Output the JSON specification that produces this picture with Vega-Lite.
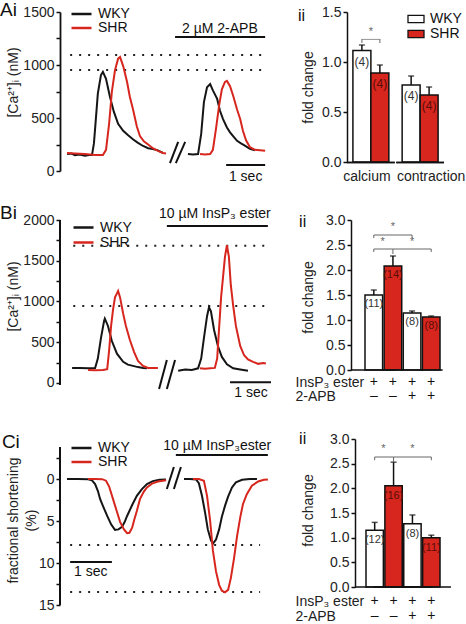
{
"$schema": "https://vega.github.io/schema/vega-lite/v6.json",
"padding": {"left": 0, "top": 0, "right": 0, "bottom": 0},
"background": "white",
"columns": 2,
"spacing": {"row": 49, "column": 76},
"bounds": "flush",
"align": "each",
"resolve": {"scale": {"x": "independent", "y": "independent", "color": "independent", "fill": "independent"}, "legend": {"color": "independent", "fill": "independent"}},
"datasets": {
"caA": [
{"s":"WKY","g":1,"t":0.18,"v":160},{"s":"WKY","g":1,"t":0.30,"v":165},{"s":"WKY","g":1,"t":0.38,"v":150},{"s":"WKY","g":1,"t":0.50,"v":155},{"s":"WKY","g":1,"t":0.64,"v":145},{"s":"WKY","g":1,"t":0.75,"v":150},{"s":"WKY","g":1,"t":0.82,"v":150},{"s":"WKY","g":1,"t":0.87,"v":260},{"s":"WKY","g":1,"t":0.90,"v":400},{"s":"WKY","g":1,"t":0.97,"v":730},{"s":"WKY","g":1,"t":1.05,"v":905},{"s":"WKY","g":1,"t":1.10,"v":935},{"s":"WKY","g":1,"t":1.18,"v":870},{"s":"WKY","g":1,"t":1.28,"v":700},{"s":"WKY","g":1,"t":1.38,"v":560},{"s":"WKY","g":1,"t":1.49,"v":445},{"s":"WKY","g":1,"t":1.62,"v":380},{"s":"WKY","g":1,"t":1.74,"v":340},{"s":"WKY","g":1,"t":1.87,"v":300},{"s":"WKY","g":1,"t":2.00,"v":265},{"s":"WKY","g":1,"t":2.13,"v":236},{"s":"WKY","g":1,"t":2.26,"v":215},{"s":"WKY","g":1,"t":2.38,"v":208},{"s":"WKY","g":1,"t":2.51,"v":195},{"s":"WKY","g":1,"t":2.64,"v":170},
{"s":"SHR","g":1,"t":0.18,"v":170},{"s":"SHR","g":1,"t":0.38,"v":165},{"s":"SHR","g":1,"t":0.64,"v":160},{"s":"SHR","g":1,"t":0.90,"v":150},{"s":"SHR","g":1,"t":1.10,"v":150},{"s":"SHR","g":1,"t":1.18,"v":200},{"s":"SHR","g":1,"t":1.26,"v":450},{"s":"SHR","g":1,"t":1.33,"v":750},{"s":"SHR","g":1,"t":1.41,"v":950},{"s":"SHR","g":1,"t":1.49,"v":1060},{"s":"SHR","g":1,"t":1.54,"v":1075},{"s":"SHR","g":1,"t":1.62,"v":990},{"s":"SHR","g":1,"t":1.72,"v":840},{"s":"SHR","g":1,"t":1.79,"v":700},{"s":"SHR","g":1,"t":1.87,"v":585},{"s":"SHR","g":1,"t":1.97,"v":420},{"s":"SHR","g":1,"t":2.05,"v":330},{"s":"SHR","g":1,"t":2.15,"v":280},{"s":"SHR","g":1,"t":2.26,"v":250},{"s":"SHR","g":1,"t":2.38,"v":215},{"s":"SHR","g":1,"t":2.51,"v":190},{"s":"SHR","g":1,"t":2.64,"v":170},{"s":"SHR","g":1,"t":2.72,"v":165},
{"s":"WKY","g":2,"t":3.28,"v":160},{"s":"WKY","g":2,"t":3.41,"v":155},{"s":"WKY","g":2,"t":3.54,"v":160},{"s":"WKY","g":2,"t":3.62,"v":350},{"s":"WKY","g":2,"t":3.69,"v":650},{"s":"WKY","g":2,"t":3.77,"v":790},{"s":"WKY","g":2,"t":3.85,"v":820},{"s":"WKY","g":2,"t":3.92,"v":760},{"s":"WKY","g":2,"t":4.03,"v":680},{"s":"WKY","g":2,"t":4.10,"v":570},{"s":"WKY","g":2,"t":4.18,"v":490},{"s":"WKY","g":2,"t":4.28,"v":410},{"s":"WKY","g":2,"t":4.36,"v":365},{"s":"WKY","g":2,"t":4.46,"v":320},{"s":"WKY","g":2,"t":4.54,"v":285},{"s":"WKY","g":2,"t":4.64,"v":260},{"s":"WKY","g":2,"t":4.74,"v":240},{"s":"WKY","g":2,"t":4.87,"v":210},{"s":"WKY","g":2,"t":5.00,"v":195},
{"s":"SHR","g":2,"t":3.59,"v":160},{"s":"SHR","g":2,"t":3.72,"v":155},{"s":"SHR","g":2,"t":3.85,"v":160},{"s":"SHR","g":2,"t":3.92,"v":200},{"s":"SHR","g":2,"t":4.00,"v":400},{"s":"SHR","g":2,"t":4.08,"v":620},{"s":"SHR","g":2,"t":4.15,"v":770},{"s":"SHR","g":2,"t":4.23,"v":840},{"s":"SHR","g":2,"t":4.28,"v":850},{"s":"SHR","g":2,"t":4.36,"v":800},{"s":"SHR","g":2,"t":4.44,"v":710},{"s":"SHR","g":2,"t":4.54,"v":580},{"s":"SHR","g":2,"t":4.62,"v":490},{"s":"SHR","g":2,"t":4.69,"v":380},{"s":"SHR","g":2,"t":4.77,"v":290},{"s":"SHR","g":2,"t":4.87,"v":225},{"s":"SHR","g":2,"t":5.00,"v":200},{"s":"SHR","g":2,"t":5.13,"v":195},{"s":"SHR","g":2,"t":5.26,"v":190}
],
"caB": [
{"s":"WKY","g":1,"t":0.31,"v":185},{"s":"WKY","g":1,"t":0.51,"v":185},{"s":"WKY","g":1,"t":0.72,"v":180},{"s":"WKY","g":1,"t":0.90,"v":185},{"s":"WKY","g":1,"t":0.97,"v":300},{"s":"WKY","g":1,"t":1.05,"v":550},{"s":"WKY","g":1,"t":1.13,"v":760},{"s":"WKY","g":1,"t":1.15,"v":790},{"s":"WKY","g":1,"t":1.23,"v":700},{"s":"WKY","g":1,"t":1.33,"v":515},{"s":"WKY","g":1,"t":1.46,"v":360},{"s":"WKY","g":1,"t":1.62,"v":260},{"s":"WKY","g":1,"t":1.74,"v":225},{"s":"WKY","g":1,"t":1.87,"v":210},{"s":"WKY","g":1,"t":2.00,"v":195},{"s":"WKY","g":1,"t":2.13,"v":185},{"s":"WKY","g":1,"t":2.23,"v":180},
{"s":"SHR","g":1,"t":0.72,"v":160},{"s":"SHR","g":1,"t":0.90,"v":155},{"s":"SHR","g":1,"t":1.10,"v":160},{"s":"SHR","g":1,"t":1.21,"v":170},{"s":"SHR","g":1,"t":1.26,"v":400},{"s":"SHR","g":1,"t":1.31,"v":700},{"s":"SHR","g":1,"t":1.36,"v":900},{"s":"SHR","g":1,"t":1.41,"v":1050},{"s":"SHR","g":1,"t":1.46,"v":1100},{"s":"SHR","g":1,"t":1.49,"v":1130},{"s":"SHR","g":1,"t":1.54,"v":1050},{"s":"SHR","g":1,"t":1.62,"v":850},{"s":"SHR","g":1,"t":1.69,"v":700},{"s":"SHR","g":1,"t":1.79,"v":530},{"s":"SHR","g":1,"t":1.90,"v":380},{"s":"SHR","g":1,"t":2.00,"v":270},{"s":"SHR","g":1,"t":2.13,"v":210},{"s":"SHR","g":1,"t":2.26,"v":185},{"s":"SHR","g":1,"t":2.38,"v":185},{"s":"SHR","g":1,"t":2.51,"v":185},
{"s":"WKY","g":2,"t":3.03,"v":150},{"s":"WKY","g":2,"t":3.21,"v":165},{"s":"WKY","g":2,"t":3.38,"v":160},{"s":"WKY","g":2,"t":3.54,"v":180},{"s":"WKY","g":2,"t":3.62,"v":300},{"s":"WKY","g":2,"t":3.69,"v":550},{"s":"WKY","g":2,"t":3.77,"v":820},{"s":"WKY","g":2,"t":3.82,"v":930},{"s":"WKY","g":2,"t":3.87,"v":880},{"s":"WKY","g":2,"t":3.95,"v":650},{"s":"WKY","g":2,"t":4.05,"v":450},{"s":"WKY","g":2,"t":4.15,"v":320},{"s":"WKY","g":2,"t":4.28,"v":230},{"s":"WKY","g":2,"t":4.44,"v":180},{"s":"WKY","g":2,"t":4.62,"v":165},{"s":"WKY","g":2,"t":4.82,"v":150},
{"s":"SHR","g":2,"t":3.59,"v":180},{"s":"SHR","g":2,"t":3.72,"v":175},{"s":"SHR","g":2,"t":3.85,"v":180},{"s":"SHR","g":2,"t":3.97,"v":185},{"s":"SHR","g":2,"t":4.03,"v":300},{"s":"SHR","g":2,"t":4.08,"v":680},{"s":"SHR","g":2,"t":4.13,"v":1050},{"s":"SHR","g":2,"t":4.18,"v":1300},{"s":"SHR","g":2,"t":4.23,"v":1550},{"s":"SHR","g":2,"t":4.28,"v":1690},{"s":"SHR","g":2,"t":4.33,"v":1550},{"s":"SHR","g":2,"t":4.38,"v":1200},{"s":"SHR","g":2,"t":4.44,"v":950},{"s":"SHR","g":2,"t":4.51,"v":700},{"s":"SHR","g":2,"t":4.62,"v":455},{"s":"SHR","g":2,"t":4.72,"v":340},{"s":"SHR","g":2,"t":4.82,"v":290},{"s":"SHR","g":2,"t":4.95,"v":260},{"s":"SHR","g":2,"t":5.08,"v":235},{"s":"SHR","g":2,"t":5.21,"v":245},{"s":"SHR","g":2,"t":5.28,"v":240}
],
"fsC": [
{"s":"WKY","g":1,"t":0.18,"v":0},{"s":"WKY","g":1,"t":0.45,"v":0},{"s":"WKY","g":1,"t":0.72,"v":0.02},{"s":"WKY","g":1,"t":0.82,"v":0.15},{"s":"WKY","g":1,"t":0.90,"v":0.6},{"s":"WKY","g":1,"t":0.97,"v":1.4},{"s":"WKY","g":1,"t":1.03,"v":2.4},{"s":"WKY","g":1,"t":1.10,"v":3.2},{"s":"WKY","g":1,"t":1.21,"v":4.4},{"s":"WKY","g":1,"t":1.31,"v":5.4},{"s":"WKY","g":1,"t":1.41,"v":6.05},{"s":"WKY","g":1,"t":1.50,"v":6.0},{"s":"WKY","g":1,"t":1.59,"v":5.7},{"s":"WKY","g":1,"t":1.66,"v":5.1},{"s":"WKY","g":1,"t":1.72,"v":4.4},{"s":"WKY","g":1,"t":1.85,"v":3.1},{"s":"WKY","g":1,"t":1.97,"v":2.0},{"s":"WKY","g":1,"t":2.10,"v":1.2},{"s":"WKY","g":1,"t":2.23,"v":0.6},{"s":"WKY","g":1,"t":2.38,"v":0.25},{"s":"WKY","g":1,"t":2.55,"v":0.1},{"s":"WKY","g":1,"t":2.72,"v":0.05},
{"s":"SHR","g":1,"t":0.72,"v":0},{"s":"SHR","g":1,"t":0.90,"v":0},{"s":"SHR","g":1,"t":1.08,"v":0.02},{"s":"SHR","g":1,"t":1.18,"v":0.2},{"s":"SHR","g":1,"t":1.26,"v":0.9},{"s":"SHR","g":1,"t":1.36,"v":2.4},{"s":"SHR","g":1,"t":1.46,"v":3.9},{"s":"SHR","g":1,"t":1.54,"v":5.1},{"s":"SHR","g":1,"t":1.64,"v":6.0},{"s":"SHR","g":1,"t":1.72,"v":6.45},{"s":"SHR","g":1,"t":1.78,"v":6.4},{"s":"SHR","g":1,"t":1.85,"v":5.8},{"s":"SHR","g":1,"t":1.90,"v":4.9},{"s":"SHR","g":1,"t":1.97,"v":3.8},{"s":"SHR","g":1,"t":2.05,"v":2.4},{"s":"SHR","g":1,"t":2.15,"v":1.5},{"s":"SHR","g":1,"t":2.23,"v":1.0},{"s":"SHR","g":1,"t":2.36,"v":0.55},{"s":"SHR","g":1,"t":2.51,"v":0.3},{"s":"SHR","g":1,"t":2.72,"v":0.15},
{"s":"WKY","g":2,"t":3.18,"v":0},{"s":"WKY","g":2,"t":3.33,"v":0},{"s":"WKY","g":2,"t":3.49,"v":0.05},{"s":"WKY","g":2,"t":3.56,"v":0.5},{"s":"WKY","g":2,"t":3.64,"v":2.0},{"s":"WKY","g":2,"t":3.72,"v":4.0},{"s":"WKY","g":2,"t":3.79,"v":6.0},{"s":"WKY","g":2,"t":3.87,"v":7.3},{"s":"WKY","g":2,"t":3.92,"v":7.7},{"s":"WKY","g":2,"t":4.00,"v":7.2},{"s":"WKY","g":2,"t":4.08,"v":6.0},{"s":"WKY","g":2,"t":4.15,"v":4.5},{"s":"WKY","g":2,"t":4.23,"v":3.2},{"s":"WKY","g":2,"t":4.31,"v":2.1},{"s":"WKY","g":2,"t":4.41,"v":1.0},{"s":"WKY","g":2,"t":4.51,"v":0.4},{"s":"WKY","g":2,"t":4.67,"v":0.1},{"s":"WKY","g":2,"t":4.87,"v":0},{"s":"WKY","g":2,"t":5.05,"v":0},
{"s":"SHR","g":2,"t":3.41,"v":0},{"s":"SHR","g":2,"t":3.56,"v":0},{"s":"SHR","g":2,"t":3.69,"v":0.2},{"s":"SHR","g":2,"t":3.77,"v":2.0},{"s":"SHR","g":2,"t":3.85,"v":5.0},{"s":"SHR","g":2,"t":3.92,"v":8.5},{"s":"SHR","g":2,"t":4.00,"v":11.0},{"s":"SHR","g":2,"t":4.08,"v":12.6},{"s":"SHR","g":2,"t":4.15,"v":13.3},{"s":"SHR","g":2,"t":4.23,"v":13.5},{"s":"SHR","g":2,"t":4.31,"v":13.2},{"s":"SHR","g":2,"t":4.38,"v":11.8},{"s":"SHR","g":2,"t":4.46,"v":9.5},{"s":"SHR","g":2,"t":4.54,"v":6.8},{"s":"SHR","g":2,"t":4.62,"v":4.6},{"s":"SHR","g":2,"t":4.69,"v":3.0},{"s":"SHR","g":2,"t":4.79,"v":1.8},{"s":"SHR","g":2,"t":4.92,"v":0.8},{"s":"SHR","g":2,"t":5.08,"v":0.3},{"s":"SHR","g":2,"t":5.23,"v":0.1},{"s":"SHR","g":2,"t":5.33,"v":0.05}
]
},
"concat": [
{
"width": 211, "height": 159,
"encoding": {
"x": {"field": "t", "type": "quantitative", "scale": {"domain": [0, 5.41], "nice": false, "zero": false}, "axis": null},
"y": {"field": "v", "type": "quantitative", "scale": {"domain": [0, 1500], "nice": false, "zero": false}, "axis": {"values": [0,250,500,750,1000,1250,1500], "format": "d", "labelExpr": "datum.value % 500 === 0 ? datum.label : ''", "title": "[Ca²⁺]ᵢ (nM)", "titleX": -47, "titleY": 70, "titleBaseline": "middle"}}
},
"layer": [
{"data": {"values": [{"t":0.26,"t2":5.28,"v":1095},{"t":0.26,"t2":5.28,"v":953}]}, "mark": {"type": "rule", "strokeDash": [2,7], "strokeWidth": 2, "stroke": "#222"}, "encoding": {"x2": {"field": "t2"}}},
{"data": {"name": "caA"}, "mark": {"type": "line", "strokeWidth": 2}, "encoding": {"detail": {"field": "g"}, "color": {"field": "s", "type": "nominal", "scale": {"domain": ["WKY","SHR"], "range": ["#151515","#d7261e"]}, "legend": {"title": null, "orient": "none", "legendX": 10, "legendY": -4, "symbolType": "stroke", "symbolSize": 400, "symbolStrokeWidth": 2.5, "clipHeight": 12, "rowPadding": 0, "labelOffset": 5}}}},
{"data": {"values": [{"t":2.95,"t2":5.26,"v":1264,"v2":1264},{"t":4.26,"t2":5.26,"v":57,"v2":57},{"t":2.82,"t2":3.03,"v":75,"v2":274},{"t":2.97,"t2":3.21,"v":75,"v2":274}]}, "mark": {"type": "rule", "strokeWidth": 2, "stroke": "#111"}, "encoding": {"x2": {"field": "t2"}, "y2": {"field": "v2"}}},
{"data": {"values": [{"t":4.1,"v":1340,"label":"2 µM 2-APB"},{"t":4.76,"v":-57,"label":"1 sec"}]}, "mark": {"type": "text", "fontSize": 14, "fill": "#111", "baseline": "middle"}, "encoding": {"text": {"field": "label"}}},
{"data": {"values": [{"t":-1.538,"v":1519,"label":"Ai"}]}, "mark": {"type": "text", "fontSize": 19, "fill": "#111", "baseline": "middle", "align": "left"}, "encoding": {"text": {"field": "label"}}},
{"data": {"values": [{"t":6.1,"v":1462,"label":"ii"}]}, "mark": {"type": "text", "fontSize": 16, "fill": "#111", "baseline": "middle", "align": "left"}, "encoding": {"text": {"field": "label"}}}
]
},
{
"width": 97, "height": 150,
"data": {"values": [
{"measure":"calcium","strain":"WKY","mean":1.115,"upper":1.17,"n":"(4)"},
{"measure":"calcium","strain":"SHR","mean":0.89,"upper":0.97,"n":"(4)"},
{"measure":"contraction","strain":"WKY","mean":0.77,"upper":0.86,"n":"(4)"},
{"measure":"contraction","strain":"SHR","mean":0.67,"upper":0.75,"n":"(4)"}
]},
"encoding": {
"x": {"field": "measure", "type": "nominal", "scale": {"domain": ["calcium","contraction"], "paddingInner": 0.27, "paddingOuter": 0.12}, "axis": null},
"y": {"field": "mean", "type": "quantitative", "scale": {"domain": [0, 1.5], "nice": false}, "axis": {"values": [0, 0.5, 1, 1.5], "format": ".1f", "title": "fold change", "titleX": -39, "titleY": 75, "titleBaseline": "middle", "domainWidth": 1.5}}
},
"layer": [
{"mark": {"type": "bar", "stroke": "#111", "strokeWidth": 1.5}, "encoding": {"xOffset": {"field": "strain", "type": "nominal", "scale": {"domain": ["WKY","SHR"], "paddingInner": 0, "paddingOuter": 0}}, "fill": {"field": "strain", "type": "nominal", "scale": {"domain": ["WKY","SHR"], "range": ["white","#d7261e"]}, "legend": {"title": null, "orient": "none", "legendX": 60, "legendY": 0.5, "symbolType": "M-1,-0.45H1V0.45H-1Z", "symbolSize": 256, "symbolStrokeColor": "#111", "symbolStrokeWidth": 1.3, "clipHeight": 13, "rowPadding": 0, "labelOffset": 5}}}},
{"mark": {"type": "rule", "strokeWidth": 1.5, "stroke": "#111"}, "encoding": {"xOffset": {"field": "strain", "type": "nominal", "scale": {"domain": ["WKY","SHR"]}}, "y2": {"field": "upper"}}},
{"mark": {"type": "tick", "thickness": 1.5, "size": 6, "color": "#111"}, "encoding": {"xOffset": {"field": "strain", "type": "nominal", "scale": {"domain": ["WKY","SHR"]}}, "y": {"field": "upper", "type": "quantitative"}}},
{"mark": {"type": "text", "fontSize": 12, "dy": 11, "baseline": "middle"}, "encoding": {"xOffset": {"field": "strain", "type": "nominal", "scale": {"domain": ["WKY","SHR"]}}, "text": {"field": "n"}, "color": {"condition": {"test": "datum.strain === 'SHR'", "value": "#5a0d08"}, "value": "#333"}}},
{"mark": {"type": "bar", "width": {"band": 1.33}, "color": "#111", "yOffset": -0.2, "y2Offset": 1.3}, "encoding": {"y": {"datum": 0}, "y2": {"datum": 0}}},
{"data": {"values": [{"measure": "calcium", "mean": -0.152}]}, "mark": {"type": "text", "fontSize": 14, "fill": "#222", "baseline": "middle", "dx": -4}, "encoding": {"text": {"field": "measure"}}},
{"data": {"values": [{"measure": "contraction", "mean": -0.152}]}, "mark": {"type": "text", "fontSize": 14, "fill": "#222", "baseline": "middle", "dx": 11}, "encoding": {"text": {"field": "measure"}}},
{"data": {"values": [{"measure": "calcium", "mean": 1.226}]}, "mark": {"type": "tick", "thickness": 1, "size": 19, "color": "#666"}},
{"data": {"values": [{"measure": "calcium", "strain": "WKY", "mean": 1.226, "upper": 1.19}, {"measure": "calcium", "strain": "SHR", "mean": 1.226, "upper": 1.19}]}, "mark": {"type": "rule", "strokeWidth": 1, "stroke": "#666"}, "encoding": {"xOffset": {"field": "strain", "type": "nominal", "scale": {"domain": ["WKY","SHR"]}}, "y2": {"field": "upper"}}},
{"data": {"values": [{"measure": "calcium", "mean": 1.30}]}, "mark": {"type": "text", "text": "*", "fontSize": 11, "fill": "#666", "baseline": "middle"}}
]
},
{
"width": 211, "height": 170,
"encoding": {
"x": {"field": "t", "type": "quantitative", "scale": {"domain": [0, 5.41], "nice": false, "zero": false}, "axis": null},
"y": {"field": "v", "type": "quantitative", "scale": {"domain": [-85.9, 2000], "nice": false, "zero": false}, "axis": {"values": [0,250,500,750,1000,1250,1500,1750,2000], "format": "d", "domain": false, "labelExpr": "datum.value % 500 === 0 ? datum.label : ''", "title": "[Ca²⁺]ᵢ (nM)", "titleX": -47, "titleY": 76, "titleBaseline": "middle"}}
},
"layer": [
{"data": {"values": [{"t":0.34,"t2":5.28,"v":1685},{"t":0.34,"t2":5.28,"v":945}]}, "mark": {"type": "rule", "strokeDash": [2,7], "strokeWidth": 2, "stroke": "#222"}, "encoding": {"x2": {"field": "t2"}}},
{"data": {"name": "caB"}, "mark": {"type": "line", "strokeWidth": 2}, "encoding": {"detail": {"field": "g"}, "color": {"field": "s", "type": "nominal", "scale": {"domain": ["WKY","SHR"], "range": ["#151515","#d7261e"]}, "legend": {"title": null, "orient": "none", "legendX": 12, "legendY": 0, "symbolType": "stroke", "symbolSize": 400, "symbolStrokeWidth": 2.5, "clipHeight": 15, "rowPadding": 0, "labelOffset": 5}}}},
{"data": {"values": [{"t":0,"t2":0,"v":-25,"v2":2000},{"t":2.74,"t2":5.33,"v":1926,"v2":1926},{"t":4.36,"t2":5.41,"v":10,"v2":10},{"t":2.54,"t2":2.74,"v":-74,"v2":282},{"t":2.74,"t2":2.95,"v":-74,"v2":282}]}, "mark": {"type": "rule", "strokeWidth": 2, "stroke": "#111"}, "encoding": {"x2": {"field": "t2"}, "y2": {"field": "v2"}}},
{"data": {"values": [{"t":3.97,"v":2074,"label":"10 µM InsP₃ ester"},{"t":4.9,"v":-123,"label":"1 sec"}]}, "mark": {"type": "text", "fontSize": 14, "fill": "#111", "baseline": "middle"}, "encoding": {"text": {"field": "label"}}},
{"data": {"values": [{"t":-1.538,"v":2086,"label":"Bi"}]}, "mark": {"type": "text", "fontSize": 19, "fill": "#111", "baseline": "middle", "align": "left"}, "encoding": {"text": {"field": "label"}}},
{"data": {"values": [{"t":6.13,"v":1975,"label":"ii"}]}, "mark": {"type": "text", "fontSize": 16, "fill": "#111", "baseline": "middle", "align": "left"}, "encoding": {"text": {"field": "label"}}}
]
},
{
"width": 96, "height": 150,
"data": {"values": [
{"cond":"WKY","strain":"WKY","mean":1.50,"upper":1.60,"n":"(11)","ins":"+","apb":"–"},
{"cond":"SHR","strain":"SHR","mean":2.08,"upper":2.28,"n":"(14)","ins":"+","apb":"–"},
{"cond":"WKY+APB","strain":"WKY","mean":1.14,"upper":1.18,"n":"(8)","ins":"+","apb":"+"},
{"cond":"SHR+APB","strain":"SHR","mean":1.06,"upper":1.08,"n":"(8)","ins":"+","apb":"+"}
]},
"encoding": {
"x": {"field": "cond", "type": "nominal", "scale": {"domain": ["WKY","SHR","WKY+APB","SHR+APB"], "paddingInner": 0.08, "paddingOuter": 0.549, "align": 0.857}, "axis": {"labels": false, "ticks": false, "domain": false, "title": ["InsP₃ ester", "2-APB"], "titleX": -52, "titleY": 12, "titleAlign": "left", "titleBaseline": "middle", "titleLineHeight": 14}},
"y": {"field": "mean", "type": "quantitative", "scale": {"domain": [0, 3], "nice": false}, "axis": {"offset": -4, "values": [0, 0.5, 1, 1.5, 2, 2.5, 3], "format": ".1f", "title": "fold change", "titleX": -43, "titleY": 77, "titleBaseline": "middle", "domainWidth": 1.5}}
},
"layer": [
{"mark": {"type": "bar", "stroke": "#111", "strokeWidth": 1.5}, "encoding": {"fill": {"field": "strain", "type": "nominal", "scale": {"domain": ["WKY","SHR"], "range": ["white","#d7261e"]}, "legend": null}}},
{"mark": {"type": "rule", "strokeWidth": 1.5, "stroke": "#111"}, "encoding": {"y2": {"field": "upper"}}},
{"mark": {"type": "tick", "thickness": 1.5, "size": 6, "color": "#111"}, "encoding": {"y": {"field": "upper", "type": "quantitative"}}},
{"mark": {"type": "text", "fontSize": 11, "dy": 9, "baseline": "middle"}, "encoding": {"text": {"field": "n"}, "color": {"condition": {"test": "datum.strain === 'SHR'", "value": "#5a0d08"}, "value": "#333"}}},
{"mark": {"type": "text", "fontSize": 14, "baseline": "middle", "fill": "#111"}, "encoding": {"y": {"datum": -0.24}, "text": {"field": "ins"}}},
{"mark": {"type": "text", "fontSize": 14, "baseline": "middle", "fill": "#111"}, "encoding": {"y": {"datum": -0.52}, "text": {"field": "apb"}}},
{"data": {"values": [{"cond":"WKY","mean":0}]}, "mark": {"type": "bar", "width": {"band": 2.6}, "color": "#111", "yOffset": -0.75, "y2Offset": 0.75}, "encoding": {"y2": {"datum": 0}}},
{"data": {"values": [{"cond":"SHR","mean":0},{"cond":"WKY+APB","mean":0}]}, "mark": {"type": "bar", "width": {"band": 1.25}, "color": "#111", "yOffset": -0.75, "y2Offset": 0.75}, "encoding": {"y2": {"datum": 0}}},
{"data": {"values": [{"cond":"SHR+APB","mean":0}]}, "mark": {"type": "bar", "width": {"band": 1.3}, "color": "#111", "yOffset": -0.75, "y2Offset": 0.75}, "encoding": {"y2": {"datum": 0}}},
{"data": {"values": [
{"cond":"WKY","cond2":"WKY+APB","mean":2.70,"m2":2.70},
{"cond":"WKY","cond2":"WKY","mean":2.70,"m2":2.64},
{"cond":"WKY+APB","cond2":"WKY+APB","mean":2.70,"m2":2.64},
{"cond":"WKY","cond2":"SHR","mean":2.42,"m2":2.42},
{"cond":"SHR","cond2":"SHR+APB","mean":2.42,"m2":2.42},
{"cond":"WKY","cond2":"WKY","mean":2.42,"m2":2.36},
{"cond":"SHR","cond2":"SHR","mean":2.42,"m2":2.32},
{"cond":"SHR+APB","cond2":"SHR+APB","mean":2.42,"m2":2.36}
]}, "mark": {"type": "rule", "strokeWidth": 1, "stroke": "#666"}, "encoding": {"x": {"field": "cond", "type": "nominal", "bandPosition": 0.5}, "x2": {"field": "cond2"}, "y2": {"field": "m2"}}},
{"data": {"values": [{"cond":"SHR","mean":2.86},{"cond":"WKY+APB","mean":2.56}]}, "mark": {"type": "text", "text": "*", "fontSize": 11, "fill": "#666", "baseline": "middle"}},
{"data": {"values": [{"cond":"WKY","mean":2.56}]}, "mark": {"type": "text", "text": "*", "fontSize": 11, "fill": "#666", "baseline": "middle"}, "encoding": {"x": {"field": "cond", "type": "nominal", "bandPosition": 1}}}
]
},
{
"width": 211, "height": 166,
"encoding": {
"x": {"field": "t", "type": "quantitative", "scale": {"domain": [0, 5.41], "nice": false, "zero": false}, "axis": null},
"y": {"field": "v", "type": "quantitative", "scale": {"domain": [-4.762, 15], "reverse": true, "nice": false, "zero": false}, "axis": {"values": [-2.5,0,2.5,5,7.5,10,12.5,15], "domain": false, "labelExpr": "datum.value >= 0 && datum.value % 5 === 0 ? datum.label : ''", "title": ["fractional shortening", "(%)"], "titleX": -47, "titleY": 81, "titleBaseline": "middle", "titleLineHeight": 18}}
},
"layer": [
{"data": {"values": [{"t":0.26,"t2":5.13,"v":7.85},{"t":0.26,"t2":5.13,"v":13.45}]}, "mark": {"type": "rule", "strokeDash": [2,7], "strokeWidth": 2, "stroke": "#222"}, "encoding": {"x2": {"field": "t2"}}},
{"data": {"name": "fsC"}, "mark": {"type": "line", "strokeWidth": 2}, "encoding": {"detail": {"field": "g"}, "color": {"field": "s", "type": "nominal", "scale": {"domain": ["WKY","SHR"], "range": ["#151515","#d7261e"]}, "legend": {"title": null, "orient": "none", "legendX": 10, "legendY": 3, "symbolType": "stroke", "symbolSize": 400, "symbolStrokeWidth": 2.5, "clipHeight": 12, "rowPadding": 0, "labelOffset": 5}}}},
{"data": {"values": [{"t":0,"t2":0,"v":-3.8,"v2":15},{"t":2.97,"t2":5.33,"v":-2.86,"v2":-2.86},{"t":0.26,"t2":1.33,"v":9.88,"v2":9.88},{"t":2.74,"t2":2.92,"v":1.19,"v2":-1.43},{"t":2.92,"t2":3.10,"v":1.19,"v2":-1.43}]}, "mark": {"type": "rule", "strokeWidth": 2, "stroke": "#111"}, "encoding": {"x2": {"field": "t2"}, "y2": {"field": "v2"}}},
{"data": {"values": [{"t":4.03,"v":-3.93,"label":"10 µM InsP₃ester"},{"t":0.79,"v":11.07,"label":"1 sec"}]}, "mark": {"type": "text", "fontSize": 14, "fill": "#111", "baseline": "middle"}, "encoding": {"text": {"field": "label"}}},
{"data": {"values": [{"t":-1.49,"v":-4.40,"label":"Ci"}]}, "mark": {"type": "text", "fontSize": 19, "fill": "#111", "baseline": "middle", "align": "left"}, "encoding": {"text": {"field": "label"}}},
{"data": {"values": [{"t":6.13,"v":-4.76,"label":"ii"}]}, "mark": {"type": "text", "fontSize": 16, "fill": "#111", "baseline": "middle", "align": "left"}, "encoding": {"text": {"field": "label"}}}
]
},
{
"width": 105, "height": 148,
"data": {"values": [
{"cond":"WKY","strain":"WKY","mean":1.15,"upper":1.31,"n":"(12)","ins":"+","apb":"–"},
{"cond":"SHR","strain":"SHR","mean":2.05,"upper":2.53,"n":"(16)","ins":"+","apb":"–"},
{"cond":"WKY+APB","strain":"WKY","mean":1.28,"upper":1.46,"n":"(8)","ins":"+","apb":"+"},
{"cond":"SHR+APB","strain":"SHR","mean":1.00,"upper":1.05,"n":"(11)","ins":"+","apb":"+"}
]},
"encoding": {
"x": {"field": "cond", "type": "nominal", "scale": {"domain": ["WKY","SHR","WKY+APB","SHR+APB"], "paddingInner": 0.08, "paddingOuter": 0.821, "align": 0.613}, "axis": {"labels": false, "ticks": false, "domain": false, "title": ["InsP₃ ester", "2-APB"], "titleX": -52, "titleY": 14, "titleAlign": "left", "titleBaseline": "middle", "titleLineHeight": 15}},
"y": {"field": "mean", "type": "quantitative", "scale": {"domain": [0, 3], "nice": false}, "axis": {"offset": -8, "values": [0, 0.5, 1, 1.5, 2, 2.5, 3], "format": ".1f", "title": "fold change", "titleX": -47, "titleY": 71, "titleBaseline": "middle", "domainWidth": 1.5}}
},
"layer": [
{"mark": {"type": "bar", "stroke": "#111", "strokeWidth": 1.5}, "encoding": {"fill": {"field": "strain", "type": "nominal", "scale": {"domain": ["WKY","SHR"], "range": ["white","#d7261e"]}, "legend": null}}},
{"mark": {"type": "rule", "strokeWidth": 1.5, "stroke": "#111"}, "encoding": {"y2": {"field": "upper"}}},
{"mark": {"type": "tick", "thickness": 1.5, "size": 6, "color": "#111"}, "encoding": {"y": {"field": "upper", "type": "quantitative"}}},
{"mark": {"type": "text", "fontSize": 11, "dy": 10, "baseline": "middle"}, "encoding": {"text": {"field": "n"}, "color": {"condition": {"test": "datum.strain === 'SHR'", "value": "#5a0d08"}, "value": "#333"}}},
{"mark": {"type": "text", "fontSize": 14, "baseline": "middle", "fill": "#111"}, "encoding": {"y": {"datum": -0.28}, "text": {"field": "ins"}}},
{"mark": {"type": "text", "fontSize": 14, "baseline": "middle", "fill": "#111"}, "encoding": {"y": {"datum": -0.59}, "text": {"field": "apb"}}},
{"mark": {"type": "bar", "width": {"band": 2.26}, "color": "#111", "yOffset": -0.75, "y2Offset": 0.75}, "encoding": {"y": {"datum": 0}, "y2": {"datum": 0}}},
{"data": {"values": [
{"cond":"WKY","cond2":"SHR","mean":2.635,"m2":2.635},
{"cond":"SHR","cond2":"SHR+APB","mean":2.635,"m2":2.635},
{"cond":"WKY","cond2":"WKY","mean":2.635,"m2":2.57},
{"cond":"SHR","cond2":"SHR","mean":2.635,"m2":2.53},
{"cond":"SHR+APB","cond2":"SHR+APB","mean":2.635,"m2":2.57}
]}, "mark": {"type": "rule", "strokeWidth": 1, "stroke": "#666"}, "encoding": {"x": {"field": "cond", "type": "nominal", "bandPosition": 0.5}, "x2": {"field": "cond2"}, "y2": {"field": "m2"}}},
{"data": {"values": [{"cond":"WKY+APB","mean":2.80}]}, "mark": {"type": "text", "text": "*", "fontSize": 11, "fill": "#666", "baseline": "middle"}},
{"data": {"values": [{"cond":"WKY","mean":2.80}]}, "mark": {"type": "text", "text": "*", "fontSize": 11, "fill": "#666", "baseline": "middle"}, "encoding": {"x": {"field": "cond", "type": "nominal", "bandPosition": 1}}}
]
}
],
"config": {
"font": "Liberation Sans",
"view": {"stroke": null},
"axis": {"labelFont": "Liberation Sans", "titleFont": "Liberation Sans", "labelFontSize": 14, "titleFontSize": 14, "titleFontWeight": "normal", "labelColor": "#222", "titleColor": "#222", "domainColor": "#111", "tickColor": "#111", "domainWidth": 1.8, "tickWidth": 1.5, "tickSize": 4, "labelPadding": 2, "grid": false, "labelOverlap": false, "labelBound": false},
"legend": {"labelFont": "Liberation Sans", "labelFontSize": 14, "labelColor": "#111"},
"text": {"font": "Liberation Sans"}
}
}
